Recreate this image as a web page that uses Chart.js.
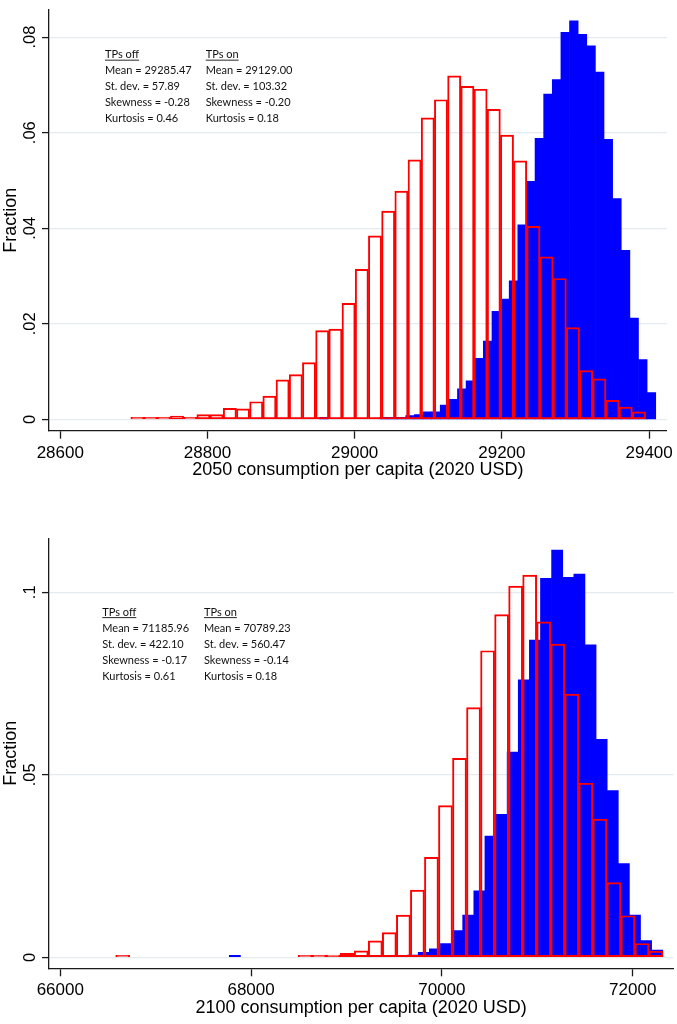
<!DOCTYPE html>
<html lang="en">
<head>
<meta charset="UTF-8">
<title>Consumption per capita - TPs on / off</title>
<script src="https://cdn.jsdelivr.net/npm/chart.js"></script>
<style>
  html, body { margin: 0; padding: 0; background: #fff; }
  canvas { display: block; }
</style>
</head>
<body>
<canvas id="chart2050" width="677" height="512"></canvas>
<canvas id="chart2100" width="677" height="512"></canvas>
<script>
// ---- 2050 ----
// TPs on (red outline) : first bin edge and bin width in 2020 USD, then fraction per bin
const on2050Start = 28695.9, on2050Width = 17.93;
const on2050 = [0.0002, 0.0001, 0.0001, 0.0007, 0.0002, 0.001, 0.001, 0.0023, 0.0022, 0.0037,
  0.0049, 0.0083, 0.0094, 0.0119, 0.0186, 0.0189, 0.0243, 0.0314, 0.0384, 0.0436,
  0.0478, 0.0543, 0.0631, 0.0669, 0.0719, 0.0697, 0.0691, 0.0649, 0.0595, 0.0541,
  0.0404, 0.034, 0.0295, 0.0192, 0.0102, 0.0085, 0.004, 0.0026, 0.0016];
// TPs off (blue fill)
const off2050Start = 28952.3, off2050Width = 11.71;
const off2050 = [0.0001, 0, 0, 0, 0, 0, 0, 0.0001, 0.0001, 0.0003,
  0.0008, 0.001, 0.0016, 0.0016, 0.003, 0.0042, 0.0064, 0.0081, 0.0128, 0.0164,
  0.0226, 0.0252, 0.029, 0.0407, 0.0498, 0.0588, 0.0681, 0.0711, 0.081, 0.0834,
  0.0806, 0.0782, 0.0727, 0.0586, 0.0462, 0.0354, 0.0212, 0.0125, 0.0056];
const xTicks2050 = [28600, 28800, 29000, 29200, 29400];
const yTicks2050 = [0, 0.02, 0.04, 0.06, 0.08];
const stats2050 = [
  ['TPs off', 'Mean = 29285.47', 'St. dev. = 57.89', 'Skewness = -0.28', 'Kurtosis = 0.46'],
  ['TPs on', 'Mean = 29129.00', 'St. dev. = 103.32', 'Skewness = -0.20', 'Kurtosis = 0.18']
];

// ---- 2100 ----
const on2100Start = 66580.7, on2100Width = 147.1;
const on2100 = [0.0002, 0, 0, 0, 0, 0, 0, 0, 0, 0,
  0, 0, 0, 0.0002, 0.0002, 0.0006, 0.0011, 0.0018, 0.0045, 0.0068,
  0.0116, 0.0184, 0.0274, 0.0416, 0.0545, 0.0684, 0.084, 0.0939, 0.1017, 0.1047,
  0.0919, 0.0858, 0.0721, 0.0477, 0.0379, 0.0205, 0.0114, 0.0038, 0.0017];
const off2100Start = 67771.5, off2100Width = 116.5;
const off2100 = [0.0002, 0, 0, 0, 0, 0, 0, 0, 0, 0,
  0, 0, 0.0001, 0.0001, 0.0001, 0.0004, 0.0006, 0.0014, 0.0023, 0.0038,
  0.0073, 0.0116, 0.0182, 0.0332, 0.0392, 0.0562, 0.076, 0.0869, 0.1038, 0.1116,
  0.1041, 0.105, 0.0856, 0.0597, 0.0457, 0.0257, 0.0116, 0.0046, 0.002];
const xTicks2100 = [66000, 68000, 70000, 72000];
const yTicks2100 = [0, 0.05, 0.1];
const stats2100 = [
  ['TPs off', 'Mean = 71185.96', 'St. dev. = 422.10', 'Skewness = -0.17', 'Kurtosis = 0.61'],
  ['TPs on', 'Mean = 70789.23', 'St. dev. = 560.47', 'Skewness = -0.14', 'Kurtosis = 0.18']
];

const AXIS = '#1a1a1a';
const SANS = '"Liberation Sans", Arial, sans-serif';

function bins(start, width, values) {
  // bar centred in its bin; empty bins are not drawn
  return values.map((v, i) => ({ x: start + width * (i + 0.5), y: v === 0 ? null : v }));
}

const statsText = {
  id: 'statsText',
  afterDraw(chart, args, o) {
    const { ctx, chartArea: a } = chart;
    ctx.save();
    ctx.font = '11px Lato';
    ctx.fillStyle = '#111';
    ctx.textBaseline = 'alphabetic';
    o.columns.forEach((col, c) => {
      const x = a.left + o.dx[c];
      col.forEach((line, i) => {
        const y = a.top + o.dy + i * 16;
        ctx.fillText(line, x, y);
        if (i === 0) {
          ctx.fillRect(x, y + 1.5, ctx.measureText(line).width, 0.9);
        }
      });
    });
    ctx.restore();
  }
};

function makePanel(id, p) {
  const barOpts = { minBarLength: 2, barPercentage: 1, categoryPercentage: 1, grouped: false };
  new Chart(document.getElementById(id), {
    type: 'bar',
    data: {
      datasets: [Object.assign({
        label: 'TPs on',
        data: bins(p.onStart, p.onWidth, p.on),
        xAxisID: 'x',
        backgroundColor: 'rgba(255,255,255,0)',
        borderColor: '#ff0000',
        borderWidth: 1.3,
        borderSkipped: false
      }, barOpts), Object.assign({
        label: 'TPs off',
        data: bins(p.offStart, p.offWidth, p.off),
        xAxisID: 'x2',
        backgroundColor: '#0000ff',
        borderWidth: 0
      }, barOpts)]
    },
    options: {
      responsive: false,
      animation: false,
      layout: { padding: p.padding },
      plugins: {
        legend: { display: false },
        tooltip: { enabled: false },
        statsText: { columns: p.stats, dx: p.statsDx, dy: p.statsDy }
      },
      scales: {
        x: {
          type: 'linear', offset: false,
          min: p.xMin, max: p.xMax,
          afterBuildTicks: s => { s.ticks = p.xTicks.map(v => ({ value: v })); },
          afterFit: s => { s.height = p.xHeight; },
          grid: { offset: false, drawOnChartArea: false, tickLength: 8, tickColor: AXIS, tickWidth: 1.3 },
          border: { color: AXIS, width: 1.3 },
          ticks: {
            color: '#000', padding: 4, maxRotation: 0, autoSkip: false,
            font: { family: SANS, size: 17 },
            callback: v => String(v)
          },
          title: {
            display: true, text: p.xTitle, color: '#000',
            font: { family: SANS, size: 18 }, padding: { top: 0, bottom: 0 }
          }
        },
        x2: {
          type: 'linear', display: false, offset: false, grid: { offset: false },
          min: p.xMin, max: p.xMax,
          afterBuildTicks: s => { s.ticks = p.xTicks.map(v => ({ value: v })); }
        },
        y: {
          min: p.yMin, max: p.yMax,
          afterBuildTicks: s => { s.ticks = p.yTicks.map(v => ({ value: v })); },
          afterFit: s => { s.width = 49; },
          grid: { color: '#e3ebee', lineWidth: 1.2, tickLength: 7, tickColor: AXIS, tickWidth: 1.3 },
          border: { color: AXIS, width: 1.3 },
          ticks: {
            color: '#000', padding: 0, autoSkip: false,
            minRotation: 90, maxRotation: 90, crossAlign: 'center',
            font: { family: SANS, size: 16.5 },
            callback: v => v === 0 ? '0' : String(v).replace(/^0/, '')
          },
          title: {
            display: true, text: 'Fraction', color: '#000',
            font: { family: SANS, size: 18 }, padding: { top: 0, bottom: 0 }
          }
        }
      }
    },
    plugins: [statsText]
  });
}

makePanel('chart2050', {
  on: on2050, onStart: on2050Start, onWidth: on2050Width,
  off: off2050, offStart: off2050Start, offWidth: off2050Width,
  xMin: 28584.7, xMax: 29424, yMin: -0.00236, yMax: 0.0857,
  xTicks: xTicks2050, yTicks: yTicks2050,
  xTitle: '2050 consumption per capita (2020 USD)',
  xHeight: 50,
  padding: { left: 0, top: 5, right: 9, bottom: 31.3 },
  stats: stats2050, statsDx: [56, 156.7], statsDy: 48.3
});

makePanel('chart2100', {
  on: on2100, onStart: on2100Start, onWidth: on2100Width,
  off: off2100, offStart: off2100Start, offWidth: off2100Width,
  xMin: 65881.6, xMax: 72425.6, yMin: -0.003, yMax: 0.1148,
  xTicks: xTicks2100, yTicks: yTicks2100,
  xTitle: '2100 consumption per capita (2020 USD)',
  xHeight: 50.5,
  padding: { left: 0, top: 26.3, right: 3.7, bottom: 5.2 },
  stats: stats2100, statsDx: [53.3, 155], statsDy: 77.4
});
</script>
</body>
</html>
